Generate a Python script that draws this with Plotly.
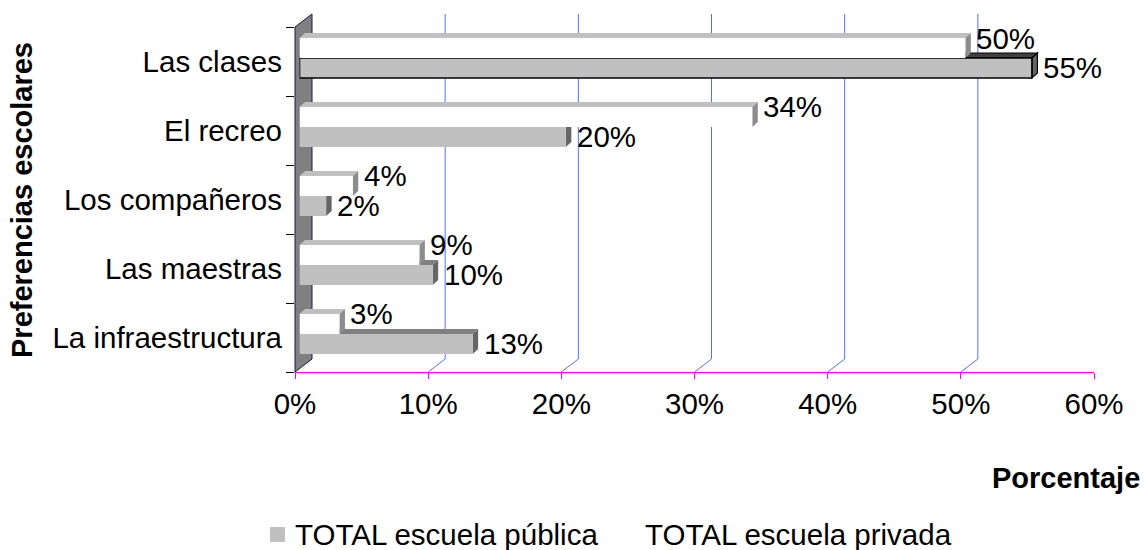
import plotly.graph_objects as go

# Survey data: school preferences (percent of students)
categories = ["La infraestructura", "Las maestras", "Los compañeros", "El recreo", "Las clases"]
publica = [13, 10, 2, 20, 55]   # TOTAL escuela pública
privada = [3, 9, 4, 34, 50]     # TOTAL escuela privada
x_ticks = [0, 10, 20, 30, 40, 50, 60]
x_tick_text = [f"{t}%" for t in x_ticks]
highlighted = "Las clases"      # bar drawn with a black outline

# ---- pseudo-3D geometry (pixels) ----
W, H = 1144, 550
FX0, FX1 = 295, 1094          # front plane, x of 0% and 60%
FY0, FY1 = 27, 372            # front plane, top and bottom
DEPTH = (17, 13)              # back wall offset (right, up)
BAR_SHIFT = (4.5, 3.5)        # bars' front face offset into the depth
BAR_DEPTH = (5.5, 5.0)        # thickness of each bar box
BARGAP = 0.42
XMAX = x_ticks[-1]

FONT = "Liberation Sans, Arial, sans-serif"
FS = 29.5
GRID = "#4f72ff"
MAGENTA = "#ff00ff"
PUB_COLOR = "#c0c0c0"
PRIV_COLOR = "#ffffff"

n = len(categories)
cat_px = (FY1 - FY0) / n
ux = XMAX / (FX1 - FX0)
uy = 1.0 / cat_px
bw = (1 - BARGAP) / 2


def xdom(dx):
    return [(FX0 + dx) / W, (FX1 + dx) / W]


def ydom(dy):
    return [(H - FY1 + dy) / H, (H - FY0 + dy) / H]


def px(x):
    return x / W


def py(y):
    return 1 - y / H


fig = go.Figure()

# invisible trace to register the category axis of the front plane
fig.add_trace(go.Scatter(x=[0] * n, y=categories, mode="markers",
                         marker=dict(opacity=0), showlegend=False,
                         hoverinfo="skip", xaxis="x", yaxis="y"))

pub_line_c = ["black" if c == highlighted else "rgba(0,0,0,0)" for c in categories]
pub_line_w = [1.6 if c == highlighted else 0 for c in categories]

fig.add_trace(go.Bar(
    name="TOTAL escuela pública", y=categories, x=publica, orientation="h",
    width=bw, offset=-bw, marker=dict(color=PUB_COLOR,
                                      line=dict(color=pub_line_c, width=pub_line_w)),
    xaxis="x2", yaxis="y2", hoverinfo="skip", showlegend=False))
fig.add_trace(go.Bar(
    name="TOTAL escuela privada", y=categories, x=privada, orientation="h",
    width=bw, offset=0, marker=dict(color=PRIV_COLOR, line=dict(width=0)),
    xaxis="x2", yaxis="y2", hoverinfo="skip", showlegend=False))

shapes = []

# back wall gridlines with the floor diagonals, anchored at each front tick
for v in x_ticks[1:]:
    shapes.append(dict(
        type="path", layer="below", xref="x", yref="paper",
        xsizemode="pixel", ysizemode="pixel", xanchor=v, yanchor=(H - FY1) / H,
        path=f"M0,0 L{DEPTH[0]},{DEPTH[1]} L{DEPTH[0]},{DEPTH[1] + FY1 - FY0}",
        line=dict(color=GRID, width=1)))

# left side wall
wall = [(FX0, FY0), (FX0 + DEPTH[0], FY0 - DEPTH[1]),
        (FX0 + DEPTH[0], FY1 - DEPTH[1]), (FX0, FY1)]
shapes.append(dict(
    type="path", layer="below", xref="paper", yref="paper",
    path="M" + " L".join(f"{px(a):.5f},{py(b):.5f}" for a, b in wall) + " Z",
    fillcolor="#808080", line=dict(color="#1a1a40", width=1)))

# top and side faces of every bar box
ddx = BAR_DEPTH[0] * ux
ddy = BAR_DEPTH[1] * uy
series = [
    (publica, -bw, "#808080", "#666666"),
    (privada, 0.0, "#c0c0c0", "#8c8c8c"),
]
for vals, off, top_c, side_c in series:
    for i, (c, v) in enumerate(zip(categories, vals)):
        bot = i + off
        top = bot + bw
        edge = dict(color="black", width=1.2) if (off < 0 and c == highlighted) else dict(width=0)
        top_fill = "#404040" if (off < 0 and c == highlighted) else top_c
        shapes.append(dict(
            type="path", layer="between", xref="x2", yref="y2",
            path=(f"M0,{top} L{v},{top} L{v + ddx},{top + ddy} "
                  f"L{ddx},{top + ddy} Z"),
            fillcolor=top_fill, line=edge))
        shapes.append(dict(
            type="path", layer="between", xref="x2", yref="y2",
            path=(f"M{v},{top} L{v + ddx},{top + ddy} "
                  f"L{v + ddx},{bot + ddy} L{v},{bot} Z"),
            fillcolor=side_c, line=edge))

# value labels
annotations = []
for vals, off, dy in [(publica, -bw, 1), (privada, 0.0, 10)]:
    for i, v in enumerate(vals):
        annotations.append(dict(
            xref="x2", yref="y2", x=v, y=i + off + bw / 2, text=f"{v}%",
            showarrow=False, xanchor="left", yanchor="middle",
            xshift=9, yshift=dy, font=dict(family=FONT, size=FS, color="black")))

# axis titles
annotations.append(dict(
    xref="paper", yref="paper", x=px(22), y=py(200),
    text="<b>Preferencias escolares</b>", textangle=-90, showarrow=False,
    xanchor="center", yanchor="middle",
    font=dict(family=FONT, size=29, color="black")))
annotations.append(dict(
    xref="paper", yref="paper", x=px(1142), y=py(478),
    text="<b>Porcentaje</b>", showarrow=False,
    xanchor="right", yanchor="middle",
    font=dict(family=FONT, size=29, color="black")))

# legend row: colour key + series name
legend_items = [
    ("TOTAL escuela pública", PUB_COLOR, 270),
    ("TOTAL escuela privada", PRIV_COLOR, 620),
]
LEG_Y = 534
for name, color, x0 in legend_items:
    shapes.append(dict(
        type="rect", layer="above", xref="paper", yref="paper",
        x0=px(x0), x1=px(x0 + 15), y0=py(LEG_Y - 7), y1=py(LEG_Y + 8),
        fillcolor=color, line=dict(width=0)))
    annotations.append(dict(
        xref="paper", yref="paper", x=px(x0 + 23), y=py(LEG_Y), text=name,
        showarrow=False, xanchor="left", yanchor="middle",
        font=dict(family=FONT, size=FS, color="black")))

fig.update_layout(
    template="none",
    width=W, height=H, autosize=False,
    margin=dict(l=0, r=0, t=0, b=0, pad=0),
    paper_bgcolor="white", plot_bgcolor="rgba(0,0,0,0)",
    barmode="overlay",
    showlegend=False,
    font=dict(family=FONT, size=FS, color="black"),
    xaxis=dict(domain=xdom(0), range=[0, XMAX], anchor="y",
               tickmode="array", tickvals=x_ticks, ticktext=x_tick_text,
               showgrid=False, zeroline=False, automargin=False,
               showline=True, linecolor=MAGENTA, linewidth=1,
               ticks="outside", tickcolor=MAGENTA, ticklen=6, tickwidth=1,
               tickfont=dict(family=FONT, size=FS, color="black"),
               fixedrange=True),
    yaxis=dict(domain=ydom(0), range=[-0.5, n - 0.5], anchor="x",
               type="category", categoryorder="array", categoryarray=categories,
               showgrid=False, zeroline=False, showline=False, automargin=False,
               ticks="outside", tickson="boundaries", ticklen=8,
               tickcolor="black", tickwidth=1, ticklabelstandoff=12,
               tickfont=dict(family=FONT, size=FS, color="black"),
               fixedrange=True),
    xaxis2=dict(domain=xdom(BAR_SHIFT[0]), range=[0, XMAX], anchor="y2",
                visible=False, fixedrange=True),
    yaxis2=dict(domain=ydom(BAR_SHIFT[1]), range=[-0.5, n - 0.5], anchor="x2",
                type="category", categoryorder="array", categoryarray=categories,
                visible=False, fixedrange=True),
    shapes=shapes,
    annotations=annotations,
)

fig.write_html("out.html")
